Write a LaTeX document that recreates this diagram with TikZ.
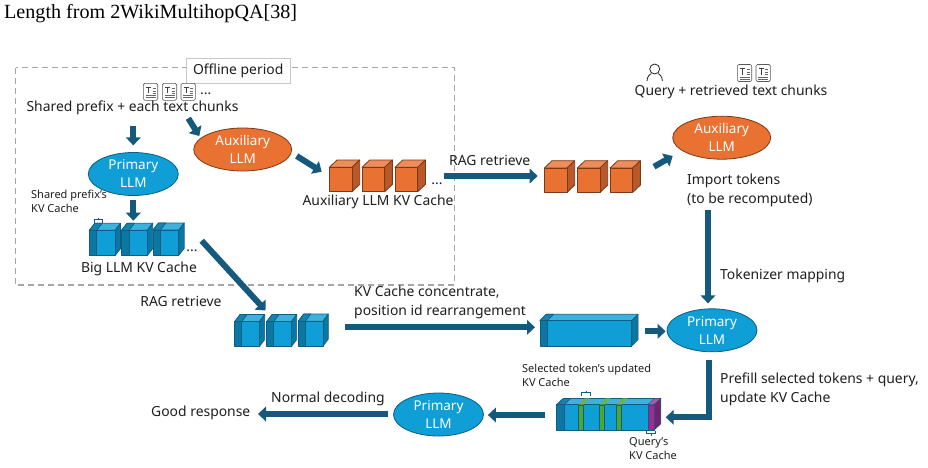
\documentclass[tikz,border=0pt]{standalone}
\usepackage{fontspec}
\setmainfont{Noto Sans}
\newfontfamily\headfont{Liberation Serif}
\usetikzlibrary{arrows.meta,shapes.geometric}
\definecolor{arrowblue}{HTML}{15597C}
\definecolor{llmblue}{HTML}{0F9ED5}
\definecolor{llmblueline}{HTML}{0C5F82}
\definecolor{stripblue}{HTML}{0C77A2}
\definecolor{topblue}{HTML}{3FB1DE}
\definecolor{llmorange}{HTML}{E97132}
\definecolor{orangeline}{HTML}{7A3A17}
\definecolor{toporange}{HTML}{EE8D5B}
\definecolor{sideorange}{HTML}{B9592A}
\definecolor{cachegreen}{HTML}{4EA72E}
\definecolor{cachepurple}{HTML}{A02B93}
\definecolor{textdark}{HTML}{1F1F1F}
\tikzset{
  x=1pt,y=-1pt,
  blockarrow/.style={draw=arrowblue,line width=6pt,-{Triangle[length=8pt,width=14.5pt]}},
  llmnode/.style={ellipse,minimum width=90pt,minimum height=43pt,inner sep=0pt,line width=0.8pt,text=white,align=center,
    font=\fontsize{13.5}{18}\selectfont},
  primary/.style={llmnode,fill=llmblue,draw=llmblueline},
  auxiliary/.style={llmnode,minimum width=98pt,fill=llmorange,draw=orangeline},
  lbl/.style={inner sep=0pt,text=textdark,font=\fontsize{13.9}{19}\selectfont,align=left},
  smalllbl/.style={inner sep=0pt,text=textdark,font=\fontsize{11}{14}\selectfont,align=left},
  bracket/.style={draw=llmblueline,line width=0.7pt},
}
% x0, ytop, strip width, front width, slant, depth, front height
\newcommand{\kvbox}[7]{%
  \begin{scope}[shift={(#1,#2)},draw=llmblueline,line width=0.7pt,line join=round]
    \filldraw[fill=topblue] (0,#6) -- (#5,0) -- ({#3+#4+#5},0) -- ({#3+#4},#6) -- cycle;
    \filldraw[fill=stripblue!80!topblue] (0,#6) -- (#5,0) -- ({#3+#5},0) -- ({#3},#6) -- cycle;
    \filldraw[fill=stripblue] ({#3+#4},#6) -- ({#3+#4+#5},0) -- ({#3+#4+#5},#7) -- ({#3+#4},{#6+#7}) -- cycle;
    \filldraw[fill=stripblue] (0,#6) rectangle ({#3},{#6+#7});
    \filldraw[fill=llmblue] ({#3},#6) rectangle ({#3+#4},{#6+#7});
  \end{scope}}
\newcommand{\orangecube}[2]{%
  \begin{scope}[shift={(#1,#2)},draw=orangeline,line width=0.8pt,line join=round]
    \filldraw[fill=toporange] (0,7.3) -- (7.7,0) -- (30.4,0) -- (22.7,7.3) -- cycle;
    \filldraw[fill=sideorange] (22.7,7.3) -- (30.4,0) -- (30.4,24.4) -- (22.7,31.7) -- cycle;
    \filldraw[fill=llmorange] (0,7.3) rectangle (22.7,31.7);
  \end{scope}}
\newcommand{\docicon}[2]{%
  \begin{scope}[shift={(#1,#2)}]
    \draw[draw=black!65,fill=white,line width=0.6pt,rounded corners=1.5pt] (0,0) rectangle (14.4,17);
    \draw[draw=black!75,line width=0.8pt] (2.5,4) -- (8,4) (5.2,4) -- (5.2,10);
    \draw[draw=black!60,line width=0.5pt] (9.3,5) -- (12.3,5) (9.3,7.5) -- (12.3,7.5) (9.3,10) -- (12.3,10)
      (2.3,12.3) -- (12.3,12.3) (2.3,14.3) -- (12.3,14.3);
  \end{scope}}
\newcommand{\greenstrip}[1]{%
  \fill[cachegreen!85!white] (#1,404.7) -- ++(6.3,-6.3) -- ++(5,0) -- ++(-6.3,6.3) -- cycle;
  \filldraw[fill=cachegreen,draw=llmblueline,line width=0.3pt] (#1,404.7) rectangle ({#1+5},430);}
\begin{document}
\begin{tikzpicture}
\useasboundingbox (0,0) rectangle (928,467);
\fill[white] (0,0) rectangle (928,467);

\node[inner sep=0pt,anchor=west,font=\headfont\fontsize{20.1}{24}\selectfont,text=black] (title) at (4,13.5) {Length from 2WikiMultihopQA[38]};

% Offline region
\draw[draw=black!35,line width=1.5pt,dash pattern=on 6pt off 4pt] (15.7,67.7) rectangle (454.7,285);
\node[draw=black!22,fill=white,line width=0.7pt,minimum width=104pt,minimum height=25pt,inner sep=0pt,text=textdark,font=\fontsize{13.9}{14}\selectfont] (offline) at (238.2,70.8) {Offline period};

% Icons
\docicon{143.3}{83.3}\docicon{162.3}{83.3}\docicon{181}{83.3}
\docicon{737.3}{64.5}\docicon{756}{64.5}
\draw[draw=black!85,line width=0.8pt] (654.7,69) circle (5);
\draw[draw=black!85,line width=0.8pt] (647,81) .. controls (647,76) and (650.5,74) .. (651.5,73.6) (662.4,81) .. controls (662.4,76) and (659,74) .. (658,73.6);
\node[lbl,anchor=west] (dots1) at (200,94) {...};

% Ellipses
\node[primary] (prim1) at (133.3,174) {Primary\\LLM};
\node[auxiliary] (aux1) at (242.7,149.5) {Auxiliary\\LLM};
\node[auxiliary] (aux2) at (721.7,137.7) {Auxiliary\\LLM};
\node[primary] (prim2) at (712,330.3) {Primary\\LLM};
\node[primary] (prim3) at (438.5,414.5) {Primary\\LLM};

% Caches
\kvbox{89.3}{223.3}{7.4}{18.3}{5.5}{7}{25.4}
\kvbox{121.5}{223.3}{7.4}{18.3}{5.5}{7}{25.4}
\kvbox{153}{223}{7.4}{18.3}{5.5}{7}{25.4}
\orangecube{329.3}{160}\orangecube{362}{160}\orangecube{395}{160}
\orangecube{544.3}{160.7}\orangecube{577.3}{160.7}\orangecube{610}{160.7}
\kvbox{234.7}{314.5}{7}{17.6}{5.4}{7.2}{25}
\kvbox{266.7}{314.5}{7}{17.6}{5.4}{7.2}{25}
\kvbox{298.3}{314}{7}{17.6}{5.4}{7.2}{25}
\kvbox{540}{314.3}{7.3}{84.4}{6.3}{6.4}{25.3}
\kvbox{556.7}{398.4}{7.3}{90}{6.7}{6.3}{25.3}
\greenstrip{578.3}\greenstrip{599.3}\greenstrip{616.3}
\filldraw[fill=cachepurple!80!white,draw=llmblueline,line width=0.4pt] (647.7,404.7) -- (654.4,398.4) -- (660.7,398.4) -- (654,404.7) -- cycle;
\filldraw[fill=cachepurple!75!black,draw=llmblueline,line width=0.4pt] (654,404.7) -- (660.7,398.4) -- (660.7,423.7) -- (654,430) -- cycle;
\filldraw[fill=cachepurple,draw=llmblueline,line width=0.4pt] (647.7,404.7) rectangle (654,430);

% Brackets
\draw[bracket] (94,222.6) -- (94,219.5) -- (102.7,219.5) -- (102.7,222.6) (98.3,219.5) -- (98.3,217.8);
\draw[bracket] (581.8,396) -- (581.8,392.5) -- (590.6,392.5) -- (590.6,396) (586.2,392.5) -- (586.2,390.7);
\draw[bracket] (646.8,431) -- (646.8,433.5) -- (655,433.5) -- (655,431) (650.9,433.5) -- (650.9,435.5);

% Labels
\node[lbl] (shared) at (132.5,108) {Shared prefix + each text chunks};
\node[smalllbl,anchor=west] (sharedkv) at (31,201) {Shared prefix's\\KV Cache};
\node[lbl] (bigkv) at (139,269) {Big LLM KV Cache};
\node[lbl] (dots2) at (192,251) {...};
\node[lbl] (auxkv) at (378,202) {Auxiliary LLM KV Cache};
\node[lbl] (dots3) at (437,184) {...};
\node[lbl,anchor=west] (rag1) at (449,160) {RAG retrieve};
\node[lbl] (query) at (731,92) {Query + retrieved text chunks};
\node[lbl,anchor=west] (import) at (687,190.5) {Import tokens\\(to be recomputed)};
\node[lbl,anchor=west] (tokmap) at (720,276) {Tokenizer mapping};
\node[lbl] (rag2) at (181,301) {RAG retrieve};
\node[lbl,anchor=west] (concat) at (354,302.5) {KV Cache concentrate,\\position id rearrangement};
\node[smalllbl,anchor=west] (selected) at (522,375) {Selected token's updated\\KV Cache};
\node[lbl,anchor=west] (prefill) at (720,389.5) {Prefill selected tokens + query,\\update KV Cache};
\node[lbl,anchor=west] (normal) at (271,399) {Normal decoding};
\node[lbl,anchor=west] (good) at (151,413) {Good response};
\node[smalllbl,anchor=west] (querykv) at (629,449) {Query's\\KV Cache};

% Connector ends
\coordinate (a1s) at (133.3,126);
\coordinate (a2s) at (188.3,118.3);
\coordinate (a2e) at (199.3,136);
\coordinate (a3e) at (133.3,220.7);
\coordinate (a4s) at (296.7,156);
\coordinate (a4e) at (321.7,171.7);
\coordinate (a5s) at (443.7,176);
\coordinate (a5e) at (537.7,176);
\coordinate (a6s) at (654,166.7);
\coordinate (a6e) at (672.7,156);
\coordinate (a7s) at (708,210);
\coordinate (a8s) at (201.7,240.7);
\coordinate (a8e) at (265.5,310.5);
\coordinate (a9s) at (345,327.3);
\coordinate (a9e) at (535,327.3);
\coordinate (a10s) at (645,331.3);
\coordinate (a11c) at (709,417.3);
\coordinate (a11e) at (665.7,417.3);
\coordinate (a12s) at (545,415);
\coordinate (a13e) at (258,414);

% Connectors
\draw[blockarrow,shorten >=6.7pt] (a1s) -- (prim1.north);
\draw[blockarrow] (a2s) -- (a2e);
\draw[blockarrow,shorten <=4.5pt] (prim1.south) -- (a3e);
\draw[blockarrow] (a4s) -- (a4e);
\draw[blockarrow] (a5s) -- (a5e);
\draw[blockarrow] (a6s) -- (a6e);
\draw[blockarrow,shorten >=5pt] (a7s) -- (a7s |- prim2.north);
\draw[blockarrow] (a8s) -- (a8e);
\draw[blockarrow] (a9s) -- (a9e);
\draw[blockarrow,shorten >=1pt] (a10s) -- (prim2.west |- a10s);
\draw[blockarrow,shorten <=7.5pt] (a11c |- prim2.south) -- (a11c) -- (a11e);
\draw[blockarrow,shorten >=4pt] (a12s) -- (prim3.east |- a12s);
\draw[blockarrow,shorten <=5pt] (prim3.west |- a13e) -- (a13e);
\end{tikzpicture}
\end{document}
